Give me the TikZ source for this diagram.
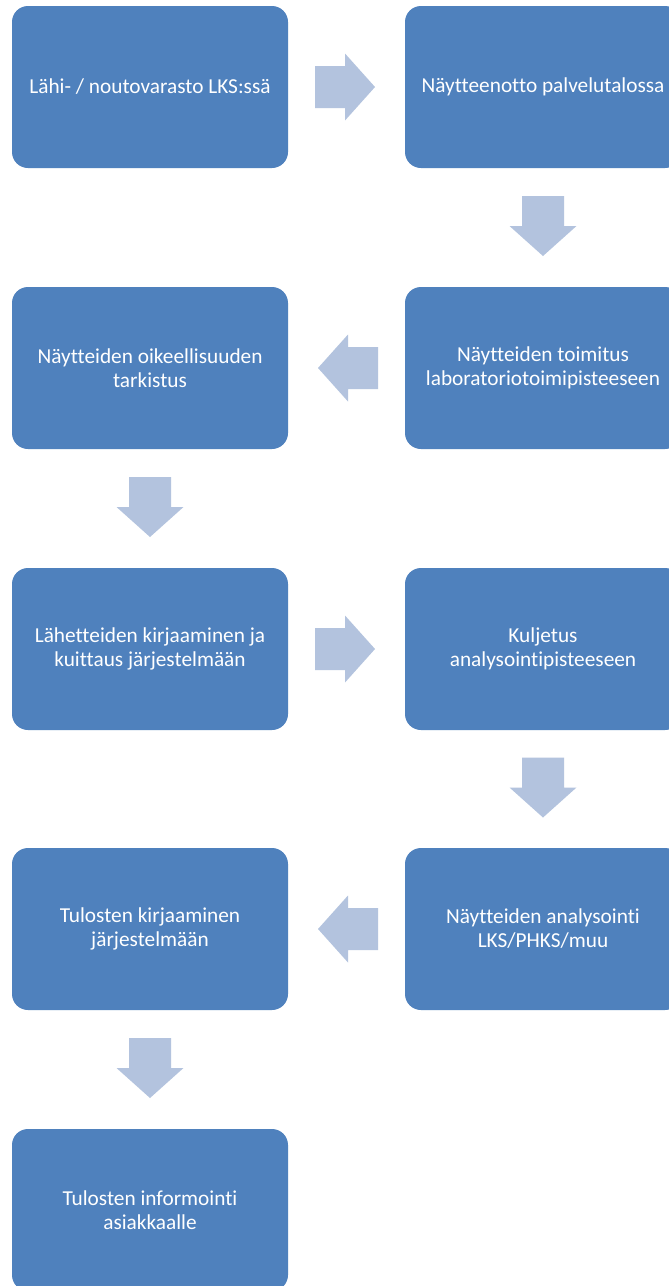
\documentclass[tikz,border=0pt]{standalone}
\usepackage{fontspec}
\setmainfont[Ligatures=NoCommon]{Carlito}
\usetikzlibrary{calc}
\definecolor{boxblue}{HTML}{4F81BD}
\definecolor{arrowblue}{HTML}{B3C3DE}
\tikzset{
  stepbox/.style={fill=boxblue, rounded corners=16pt, minimum width=276pt,
    minimum height=162pt, inner sep=0pt, align=center, text=white,
    font=\fontsize{21.3}{24}\selectfont},
  arrowfill/.style={fill=arrowblue, draw=none}
}
% block arrow pointing along +x in its local frame
\newcommand{\blockarrow}[2]{%
  \fill[arrowfill, shift={#1}, rotate=#2]
    (-31.5,-21) -- (-1.5,-21) -- (-1.5,-33.5) -- (28.5,0) -- (-1.5,33.5)
    -- (-1.5,21) -- (-31.5,21) -- cycle;}
\begin{document}
\begin{tikzpicture}[x=1pt, y=-1pt]
  \clip (0,0) rectangle (669,1286);
  \fill[white] (0,0) rectangle (669,1286);

  \node[stepbox] (n1) at (150,87)   {Lähi- / noutovarasto LKS:ssä};
  \node[stepbox] (n2) at (543,87)   {Näytteenotto palvelutalossa};
  \node[stepbox] (n3) at (543,368)  {Näytteiden toimitus\\laboratoriotoimipisteeseen};
  \node[stepbox] (n4) at (150,368)  {Näytteiden oikeellisuuden\\tarkistus};
  \node[stepbox] (n5) at (150,649)  {Lähetteiden kirjaaminen ja\\kuittaus järjestelmään};
  \node[stepbox] (n6) at (543,649)  {Kuljetus\\analysointipisteeseen};
  \node[stepbox] (n7) at (543,929)  {Näytteiden analysointi\\LKS/PHKS/muu};
  \node[stepbox] (n8) at (150,929)  {Tulosten kirjaaminen\\järjestelmään};
  \node[stepbox] (n9) at (150,1210) {Tulosten informointi\\asiakkaalle};

  \blockarrow{($(n1.east)!0.5!(n2.west)$)}{0}
  \blockarrow{($(n2.south)!0.5!(n3.north)$)}{-90}
  \blockarrow{($(n3.west)!0.5!(n4.east)$)}{180}
  \blockarrow{($(n4.south)!0.5!(n5.north)$)}{-90}
  \blockarrow{($(n5.east)!0.5!(n6.west)$)}{0}
  \blockarrow{($(n6.south)!0.5!(n7.north)$)}{-90}
  \blockarrow{($(n7.west)!0.5!(n8.east)$)}{180}
  \blockarrow{($(n8.south)!0.5!(n9.north)$)}{-90}
\end{tikzpicture}
\end{document}
